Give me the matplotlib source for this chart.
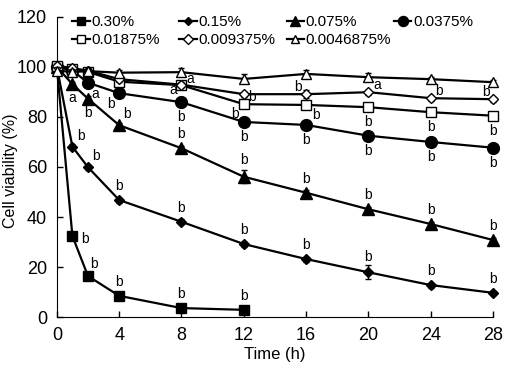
import matplotlib
matplotlib.use("Agg")
import matplotlib.pyplot as plt
from matplotlib.lines import Line2D

plt.rcParams['font.family'] = ['Liberation Sans', 'DejaVu Sans']

time_h = [0, 1, 2, 4, 8, 12, 16, 20, 24, 28]
labels = ["0.30%", "0.15%", "0.075%", "0.0375%",
          "0.01875%", "0.009375%", "0.0046875%"]

v_030 = [100, 32.4, 16.4, 8.5, 3.6, 2.9]
v_015 = [100, 68.1, 59.9, 46.8, 38.1, 29.2, 23.2, 17.9, 12.8, 9.7]
v_0075 = [100, 93.1, 87.3, 76.7, 67.5, 56.1, 49.7, 43.1, 37.2, 30.8]
v_00375 = [100, 98.5, 93.7, 89.5, 85.9, 78.0, 76.8, 72.5, 70.0, 67.7]
v_001875 = [100.5, 99.0, 98.0, 94.1, 92.7, 85.1, 84.8, 83.9, 81.9, 80.5]
v_0009375 = [100.5, 99.5, 98.5, 95.1, 92.9, 89.1, 89.1, 89.9, 87.5, 87.1]
v_00046875 = [98.5, 98.0, 98.3, 97.7, 97.9, 95.2, 97.2, 95.9, 95.1, 93.9]

e_030 = [1, 1, 1, 1, 0.8, 1.5]
e_015 = [1, 1, 1, 1, 1, 1, 1, 2.8, 1, 0.8]
e_0075 = [1, 1, 1, 1, 1, 2.5, 1, 1, 1, 1]
e_00375 = [1, 1, 1, 1, 2, 1, 1, 1, 1, 1]
e_001875 = [1, 1, 1, 1, 1, 1, 1, 1, 1, 1]
e_0009375 = [1, 1, 1, 1, 1, 1, 1.5, 1, 1, 1]
e_00046875 = [1.5, 1, 1, 1, 1.5, 1.8, 1.5, 1.5, 1, 1]

values = [v_030, v_015, v_0075, v_00375, v_001875, v_0009375, v_00046875]
errors = [e_030, e_015, e_0075, e_00375, e_001875, e_0009375, e_00046875]

# significance letters: (series index, time index, letter)
letters = [
    (0, 1, "b"), (0, 2, "b"), (0, 3, "b"), (0, 4, "b"), (0, 5, "b"),
    (1, 1, "b"), (1, 2, "b"), (1, 3, "b"), (1, 4, "b"), (1, 5, "b"),
    (1, 6, "b"), (1, 7, "b"), (1, 8, "b"), (1, 9, "b"),
    (2, 1, "a"), (2, 2, "b"), (2, 3, "b"), (2, 4, "b"), (2, 5, "b"),
    (2, 6, "b"), (2, 7, "b"), (2, 8, "b"), (2, 9, "b"),
    (3, 2, "a"), (3, 3, "b"), (3, 4, "b"), (3, 5, "b"), (3, 6, "b"),
    (3, 7, "b"), (3, 8, "b"), (3, 9, "b"),
    (4, 5, "b"), (4, 6, "b"), (4, 7, "b"), (4, 8, "b"), (4, 9, "b"),
    (5, 4, "a"), (5, 4, "a"), (5, 5, "b"), (5, 6, "b"), (5, 7, "a"),
    (5, 8, "b"), (5, 9, "b"),
]
# offsets for each letter (dx, dy) in points
letter_offsets = [
    (9, -2), (4, 9), (0, 10), (0, 10), (0, 10),
    (6, 8), (6, 8), (0, 10), (0, 10), (0, 10),
    (0, 10), (0, 11), (0, 10), (0, 10),
    (0, -10), (0, -10), (6, 8), (0, 10), (0, 12),
    (0, 10), (0, 10), (0, 10), (0, 10),
    (5, -8), (-6, -8), (0, -11), (0, -11), (0, -11),
    (0, -11), (0, -11), (0, -11),
    (-6, -7), (7, -7), (0, -11), (0, -11), (0, -11),
    (6, 4), (-6, -4), (6, -2), (-6, 5), (6, 5),
    (6, 5), (-5, 5),
]

markers = ['s', 'D', '^', 'o', 's', 'D', '^']
msizes = [7.5, 5, 8, 8.5, 7, 5.5, 7]
filled = [True, True, True, True, False, False, False]

fig = plt.figure(figsize=(5.12, 3.67), dpi=100)
ax = fig.add_axes([0.111, 0.136, 0.852, 0.818])

for i, (vals, errs) in enumerate(zip(values, errors)):
    t = time_h[:len(vals)]
    fc = 'black' if filled[i] else 'white'
    ax.errorbar(t, vals, yerr=errs, color='black', lw=1.6,
                marker=markers[i], ms=msizes[i], mfc=fc, mec='black', mew=1,
                ecolor='black', elinewidth=1, capsize=2, clip_on=False,
                zorder=3 + i * 0.1)

for (si, ti, let), (dx, dy) in zip(letters, letter_offsets):
    ax.annotate(let, (time_h[ti], values[si][ti]), xytext=(dx, dy),
                textcoords='offset points', ha='center', va='center',
                fontsize=10, zorder=10)

ax.set_xlim(0, 28)
ax.set_ylim(0, 120)
ax.set_xticks(range(0, 29, 4))
ax.set_yticks(range(0, 121, 20))
ax.tick_params(direction='in', length=4, labelsize=13, width=1)
ax.tick_params(axis='y', pad=7)
ax.tick_params(axis='x', pad=7)
ax.spines['top'].set_visible(False)
ax.spines['right'].set_visible(False)
ax.set_xlabel("Time (h)", fontsize=12, labelpad=2)
ax.set_ylabel("Cell viability (%)", fontsize=11.5)
ax.yaxis.set_label_coords(-0.088, 0.487)

# legend: row-major, fixed column positions (pixels)
for i in range(7):
    row, col = divmod(i, 4)
    fc = 'black' if filled[i] else 'white'
    h = Line2D([], [], color='black', lw=1.6, marker=markers[i],
               ms=msizes[i] * 0.85, mfc=fc, mec='black')
    x_px = 72 + col * 107.3
    y_px = 22 + row * 18
    leg = fig.legend([h], [labels[i]], loc='center left',
                     bbox_to_anchor=(x_px / 512, 1 - y_px / 367),
                     frameon=False, fontsize=11, handlelength=1.15,
                     handletextpad=0.1, borderpad=0, borderaxespad=0)

fig.savefig("out.png", dpi=100)
